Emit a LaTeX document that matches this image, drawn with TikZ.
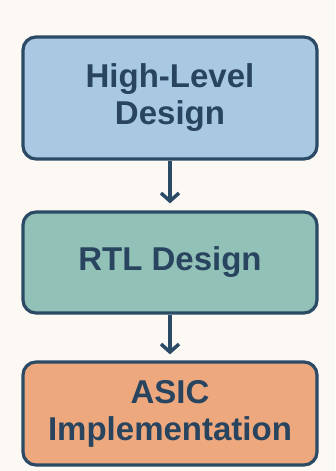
\documentclass[tikz,border=0pt]{standalone}
\usepackage{fontspec}
\setmainfont{Liberation Sans}
\usetikzlibrary{arrows.meta}
\definecolor{bgcream}{HTML}{FCF9F4}
\definecolor{edgeblue}{HTML}{2B4A66}
\definecolor{textblue}{HTML}{28445F}
\definecolor{fillblue}{HTML}{A9C9E3}
\definecolor{fillteal}{HTML}{92C1B8}
\definecolor{fillorange}{HTML}{EDA97D}
\tikzset{
  stage/.style={draw=edgeblue, line width=3.2pt, rounded corners=13pt,
    minimum width=294pt, align=center, text=textblue,
    font=\fontsize{33}{37}\selectfont\bfseries, inner sep=0pt},
  flow/.style={draw=edgeblue, line width=3.5pt,
    -{Straight Barb[length=8pt,width=18pt,line width=3.5pt]}}
}
\begin{document}
\begin{tikzpicture}[x=1pt,y=1pt]
  \fill[bgcream] (0,0) rectangle (335,471);
  \useasboundingbox (0,0) rectangle (335,471);
  \node[stage, fill=fillblue, minimum height=122pt] (hld) at (170,373) {High-Level\\Design};
  \node[stage, fill=fillteal, minimum height=101pt] (rtl) at (170,208.5) {RTL Design};
  \node[stage, fill=fillorange, minimum height=103pt] (asic) at (170,57.5) {ASIC\\Implementation};
  \draw[flow] (hld.south) -- ([yshift=7pt]rtl.north);
  \draw[flow] (rtl.south) -- ([yshift=6pt]asic.north);
\end{tikzpicture}
\end{document}
